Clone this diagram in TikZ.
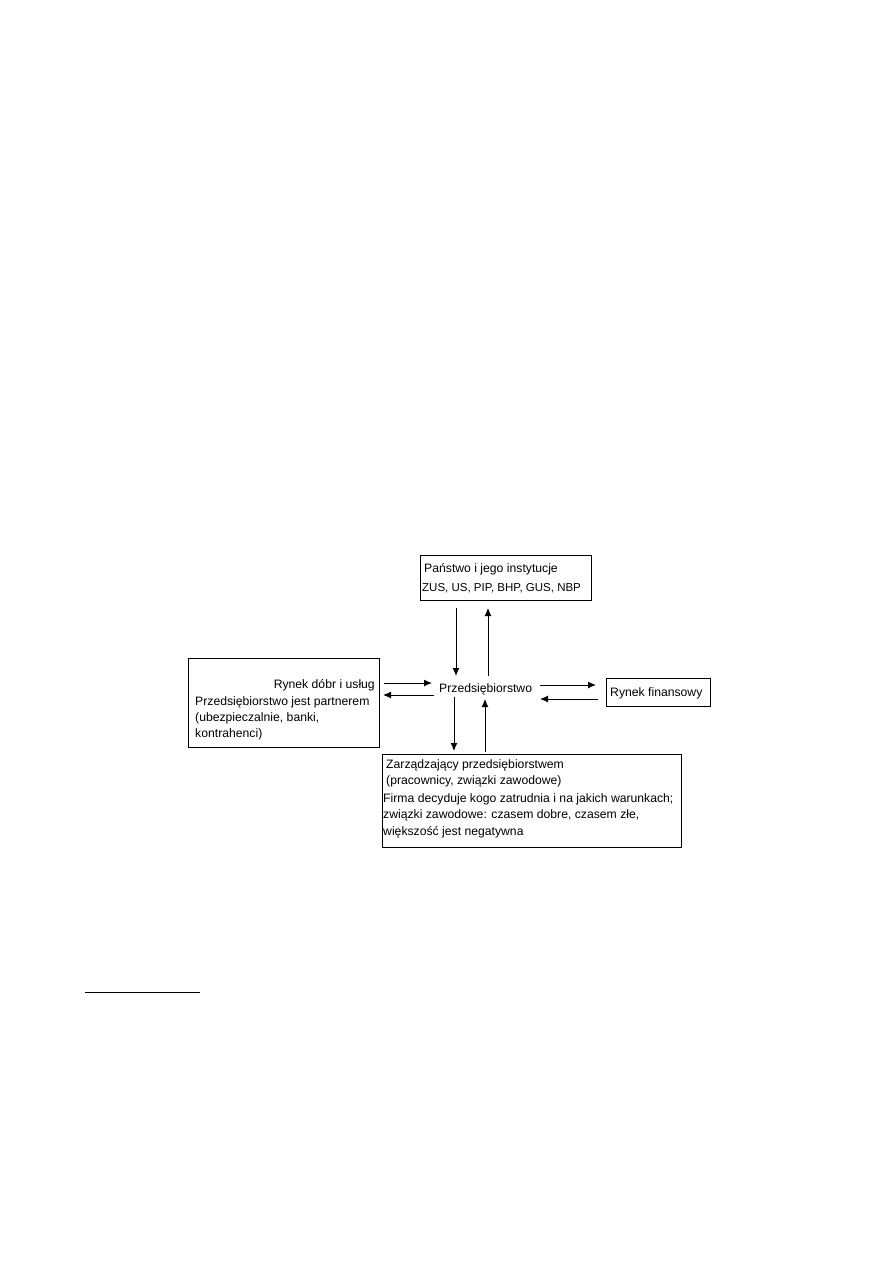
\documentclass[tikz,border=0pt]{standalone}
\usepackage{fontspec}
\setmainfont{Liberation Sans}
\usetikzlibrary{arrows.meta}
\begin{document}
\begin{tikzpicture}[x=1pt,y=-1pt,
  box/.style={draw,line width=1pt,inner sep=0pt,minimum width=#1},
  txt/.style={inner sep=0pt,anchor=base west,font=\fontsize{12.2}{14}\selectfont},
  txtr/.style={inner sep=0pt,anchor=base east,font=\fontsize{12.2}{14}\selectfont},
  arr/.style={line width=1pt,-{Latex[length=8pt,width=7pt]}}]
\useasboundingbox[fill=white] (0,0) rectangle (893,1263);
% boxes
\node[box=171pt,minimum height=45pt] (top) at (505.5,577.5) {};
\node[box=191pt,minimum height=89pt] (left) at (283.5,702.5) {};
\node[box=104pt,minimum height=28pt] (right) at (658,692) {};
\node[box=299pt,minimum height=93pt] (bottom) at (531.5,800.5) {};
% texts
\node[txt] (t1) at (424,572) {Państwo i jego instytucje};
\node[txt,font=\fontsize{11.5}{14}\selectfont] (t2) at (422,591) {ZUS, US, PIP, BHP, GUS, NBP};
\node[txtr] (l1) at (375,688) {Rynek dóbr i usług};
\node[txt] (l2) at (195,705) {Przedsiębiorstwo jest partnerem};
\node[txt] (l3) at (195,721) {(ubezpieczalnie, banki,};
\node[txt] (l4) at (195,737) {kontrahenci)};
\node[txt] (c) at (439,692) {Przedsiębiorstwo};
\node[txt] (r1) at (610,696) {Rynek finansowy};
\node[txt] (b1) at (386,768) {Zarządzający przedsiębiorstwem};
\node[txt] (b2) at (386,784) {(pracownicy, związki zawodowe)};
\node[txt] (b3) at (383,802) {Firma decyduje kogo zatrudnia i na jakich warunkach;};
\node[txt] (b4) at (383,818) {związki zawodowe: czasem dobre, czasem złe,};
\node[txt] (b5) at (383,835) {większość jest negatywna};
% arrow end coordinates
\coordinate (a1s) at (456,608); \coordinate (a1e) at (456,676);
\coordinate (a2s) at (488,676); \coordinate (a2e) at (488,608);
\coordinate (a3s) at (384,683); \coordinate (a3e) at (432,683);
\coordinate (a4s) at (434,695); \coordinate (a4e) at (383,695);
\coordinate (a5s) at (540,685); \coordinate (a5e) at (596,685);
\coordinate (a6s) at (598,699); \coordinate (a6e) at (540,699);
\coordinate (a7s) at (454,697); \coordinate (a7e) at (454,751);
\coordinate (a8s) at (485,752); \coordinate (a8e) at (485,699);
\draw[arr] (a1s) -- (a1e);
\draw[arr] (a2s) -- (a2e);
\draw[arr] (a3s) -- (a3e);
\draw[arr] (a4s) -- (a4e);
\draw[arr] (a5s) -- (a5e);
\draw[arr] (a6s) -- (a6e);
\draw[arr] (a7s) -- (a7e);
\draw[arr] (a8s) -- (a8e);
% footnote rule
\coordinate (f1) at (85,992); \coordinate (f2) at (200,992);
\draw[line width=0.9pt] (f1) -- (f2);
\end{tikzpicture}
\end{document}
